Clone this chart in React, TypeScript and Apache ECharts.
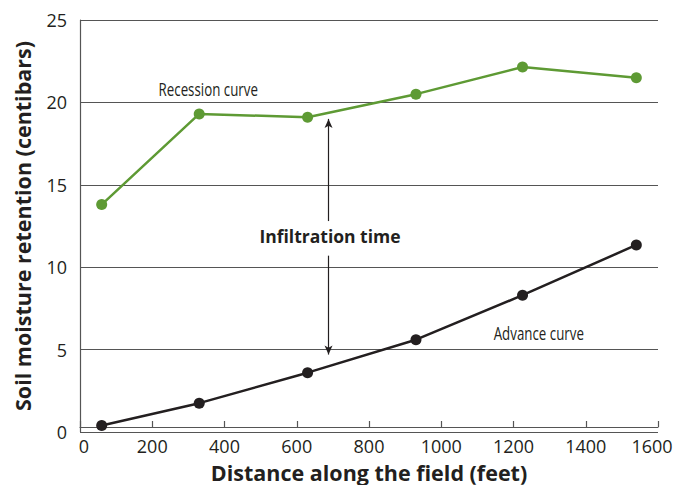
import React, { useEffect, useRef } from "react";
import * as echarts from "echarts";

const distance = [60, 330, 630, 930, 1225, 1540];
const recession = [13.8, 19.3, 19.1, 20.5, 22.15, 21.5];
const advance = [0.4, 1.75, 3.6, 5.6, 8.3, 11.35];
const xTicks = [0, 200, 400, 600, 800, 1000, 1200, 1400, 1600];
const yTicks = [0, 5, 10, 15, 20, 25];
const arrowX = 688;
const arrowUp = [12.8, 19.0];
const arrowDown = [10.7, 4.7];
const notes = [
  { text: "Recession curve", x: 355, y: 20.8 },
  { text: "Advance curve", x: 1270, y: 6.0 },
];

const GREEN = "#5e9a34";
const BLACK = "#231f20";
const BOLD = "'Open Sans', 'Noto Sans', sans-serif";
const tickFont = { fontFamily: "Open Sans", fontSize: 18, color: BLACK };

export default function App() {
  const ref = useRef<HTMLDivElement>(null);
  useEffect(() => {
    if (!ref.current) return;
    const chart = echarts.init(ref.current, undefined, { renderer: "svg" });
    const lastX = xTicks[xTicks.length - 1];
    chart.setOption({
      animation: false,
      grid: { left: 80, right: 17, top: 20, bottom: 53, outerBoundsMode: "none" },
      xAxis: {
        type: "value",
        min: xTicks[0],
        max: lastX,
        interval: 200,
        offset: -5,
        name: "Distance along the field (feet)",
        nameLocation: "middle",
        nameGap: 34,
        nameTextStyle: { fontFamily: BOLD, fontWeight: "bold", fontSize: 21.5, color: BLACK },
        axisLine: { show: true, lineStyle: { color: "#555", width: 1.2 } },
        axisTick: { show: true, inside: true, length: 6, lineStyle: { color: "#555", width: 1.2 } },
        axisLabel: {
          ...tickFont,
          margin: 10,
          formatter: (v: number) =>
            v === lastX ? `{r|${v}}` : v === xTicks[0] ? `{l|${v}}` : String(v),
          rich: {
            r: { ...tickFont, padding: [0, 12, 0, 0] },
            l: { ...tickFont, padding: [0, 0, 0, 8] },
          },
        },
        splitLine: { show: false },
      },
      yAxis: {
        type: "value",
        min: yTicks[0],
        max: yTicks[yTicks.length - 1],
        interval: 5,
        name: "Soil moisture retention (centibars)",
        nameLocation: "middle",
        nameGap: 47,
        nameTextStyle: { fontFamily: BOLD, fontWeight: "bold", fontSize: 21.5, color: BLACK },
        axisLine: { show: true, lineStyle: { color: "#555", width: 1.2 } },
        axisTick: { show: false },
        axisLabel: { ...tickFont, margin: 13 },
        splitLine: { show: true, lineStyle: { color: "#555", width: 1 } },
      },
      series: [
        {
          type: "line",
          data: distance.map((d, i) => [d, recession[i]]),
          symbol: "circle",
          symbolSize: 11,
          lineStyle: { color: GREEN, width: 2.5 },
          itemStyle: { color: GREEN },
          markLine: {
            silent: true,
            symbol: ["arrow", "none"],
            symbolSize: [6, 9],
            lineStyle: { color: BLACK, width: 1.2, type: "solid" },
            label: { show: false },
            data: [
              [{ coord: [arrowX, arrowUp[1]] }, { coord: [arrowX, arrowUp[0]] }],
            ],
          },
        },
        {
          type: "line",
          data: distance.map((d, i) => [d, advance[i]]),
          symbol: "circle",
          symbolSize: 11,
          lineStyle: { color: BLACK, width: 2.5 },
          itemStyle: { color: BLACK },
          markPoint: {
            symbol: "circle",
            symbolSize: 0,
            data: [
              {
                coord: [692, 11.9],
                label: {
                  show: true,
                  formatter: "Infiltration time",
                  fontFamily: BOLD,
                  fontWeight: "bold",
                  fontSize: 17.5,
                  color: BLACK,
                },
              },
            ],
          },
          markLine: {
            silent: true,
            symbol: ["none", "arrow"],
            symbolSize: [6, 9],
            lineStyle: { color: BLACK, width: 1.2, type: "solid" },
            label: { show: false },
            data: [
              [{ coord: [arrowX, arrowDown[0]] }, { coord: [arrowX, arrowDown[1]] }],
            ],
          },
        },
      ],
    });
    const graphics = notes.map((n) => {
      const p = chart.convertToPixel({ gridIndex: 0 }, [n.x, n.y]) as number[];
      return {
        type: "text",
        x: p[0],
        y: p[1],
        scaleX: 0.74,
        style: {
          text: n.text,
          fontFamily: "Open Sans",
          fontSize: 18,
          fill: BLACK,
          align: "center",
          verticalAlign: "middle",
        },
      };
    });
    chart.setOption({ graphic: graphics });
    return () => chart.dispose();
  }, []);
  return <div ref={ref} style={{ width: 675, height: 485, position: "absolute", left: 0, top: 0 }} />;
}
